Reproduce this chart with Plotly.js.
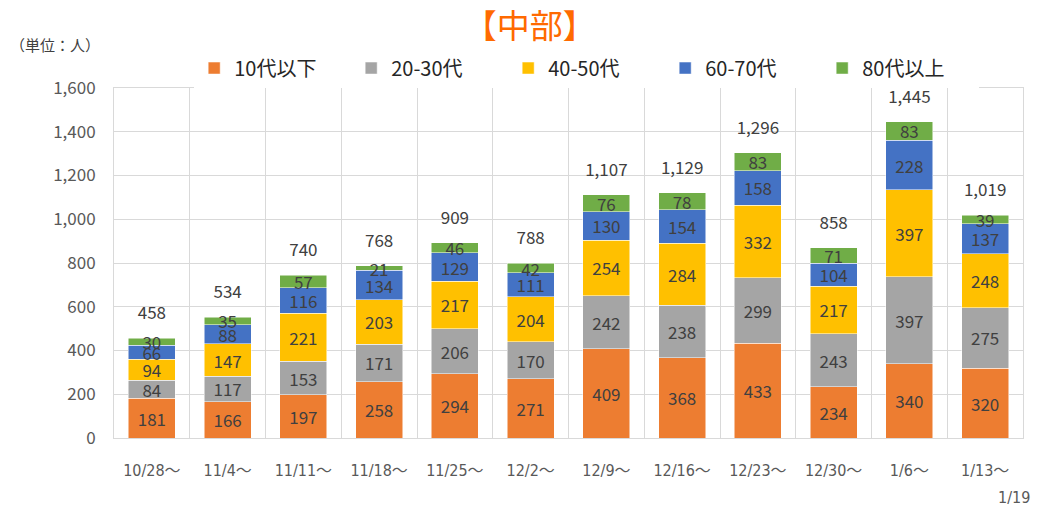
<!DOCTYPE html>
<html>
<head>
<meta charset="utf-8">
<script src="https://cdn.plot.ly/plotly-3.0.1.min.js"></script>
<style>
  html, body { margin: 0; padding: 0; background: #fff; }
  #chart { width: 1045px; height: 506px; }
</style>
</head>
<body>
<div id="chart"></div>
<script>
// 週別・年代別 新規陽性者数（中部）
const weeks = ["10/28～", "11/4～", "11/11～", "11/18～", "11/25～", "12/2～",
  "12/9～", "12/16～", "12/23～", "12/30～", "1/6～", "1/13～"];

const age10 = [181, 166, 197, 258, 294, 271, 409, 368, 433, 234, 340, 320];
const age20 = [84, 117, 153, 171, 206, 170, 242, 238, 299, 243, 397, 275];
const age40 = [94, 147, 221, 203, 217, 204, 254, 284, 332, 217, 397, 248];
const age60 = [66, 88, 116, 134, 129, 111, 130, 154, 158, 104, 228, 137];
const age80 = [30, 35, 57, 21, 46, 42, 76, 78, 83, 71, 83, 39];
const totals = [458, 534, 740, 768, 909, 788, 1107, 1129, 1296, 858, 1445, 1019];

const seriesNames = ["10代以下", "20-30代", "40-50代", "60-70代", "80代以上"];
const seriesColors = ["#ED7D31", "#A5A5A5", "#FFC000", "#4472C4", "#70AD47"];
const seriesData = [age10, age20, age40, age60, age80];

const FONT = "'Noto Sans CJK JP', 'Noto Sans', sans-serif";
const NARROW = "'DejaVu Sans Condensed', 'Noto Sans CJK JP', sans-serif";

const traces = seriesData.map((vals, i) => ({
  type: "bar",
  name: seriesNames[i],
  x: weeks,
  y: vals,
  marker: { color: seriesColors[i], line: { color: "#fff", width: 0.5 } },
  text: vals.map(String),
  textposition: "inside",
  insidetextanchor: "middle",
  textangle: 0,
  constraintext: "none",
  textfont: { family: FONT, size: 17, color: "#404040" },
  hoverinfo: "x+y+name"
}));

// stack top for total labels
const stackTop = weeks.map((_, j) => seriesData.reduce((s, a) => s + a[j], 0));
traces.push({
  type: "scatter",
  mode: "markers+text",
  x: weeks,
  y: stackTop,
  marker: { size: 22, color: "rgba(0,0,0,0)" },
  text: totals.map(v => v.toLocaleString("en-US")),
  textposition: "top center",
  textfont: { family: FONT, size: 17, color: "#404040" },
  showlegend: false,
  hoverinfo: "skip",
  cliponaxis: false
});

Plotly.newPlot("chart", traces, {
  width: 1045,
  height: 506,
  barmode: "stack",
  bargap: 0.38,
  paper_bgcolor: "#fff",
  plot_bgcolor: "#fff",
  margin: { t: 88, b: 68, l: 114, r: 22 },
  font: { family: FONT, color: "#404040" },
  title: {
    text: "【中部】",
    font: { family: FONT, size: 33, color: "#FF6A00" },
    x: 0.507, xref: "container", xanchor: "center",
    y: 0.948, yanchor: "middle"
  },
  legend: {
    orientation: "h",
    traceorder: "normal",
    x: 0.52, xanchor: "center",
    y: 1.057, yanchor: "middle",
    font: { family: FONT, size: 20, color: "#262626" },
    entrywidth: 112,
    itemclick: false
  },
  xaxis: {
    type: "category",
    range: [-0.5, weeks.length - 0.5],
    tickson: "boundaries",
    showgrid: true,
    gridcolor: "#D9D9D9",
    showline: true, mirror: true, linecolor: "#D9D9D9", linewidth: 1,
    ticks: "",
    tickfont: { family: NARROW, size: 16, color: "#595959" },
    ticklabelstandoff: 18
  },
  yaxis: {
    range: [0, 1600],
    dtick: 200,
    tickformat: ",d",
    showgrid: true,
    gridcolor: "#D9D9D9",
    showline: true, mirror: true, linecolor: "#D9D9D9",
    zeroline: false,
    ticks: "",
    tickfont: { family: FONT, size: 17, color: "#595959" },
    ticklabelstandoff: 14
  },
  annotations: [
    {
      text: "（単位：人）", xref: "paper", yref: "paper",
      x: -0.117, xanchor: "left", y: 1.123, yanchor: "middle", showarrow: false,
      font: { family: FONT, size: 15, color: "#404040" }
    },
    {
      text: "1/19", xref: "paper", yref: "paper",
      x: 1.01, xanchor: "right", y: -0.137, yanchor: "top", showarrow: false,
      font: { family: NARROW, size: 16, color: "#595959" }
    }
  ]
}, { displayModeBar: false, staticPlot: true });
</script>
</body>
</html>
